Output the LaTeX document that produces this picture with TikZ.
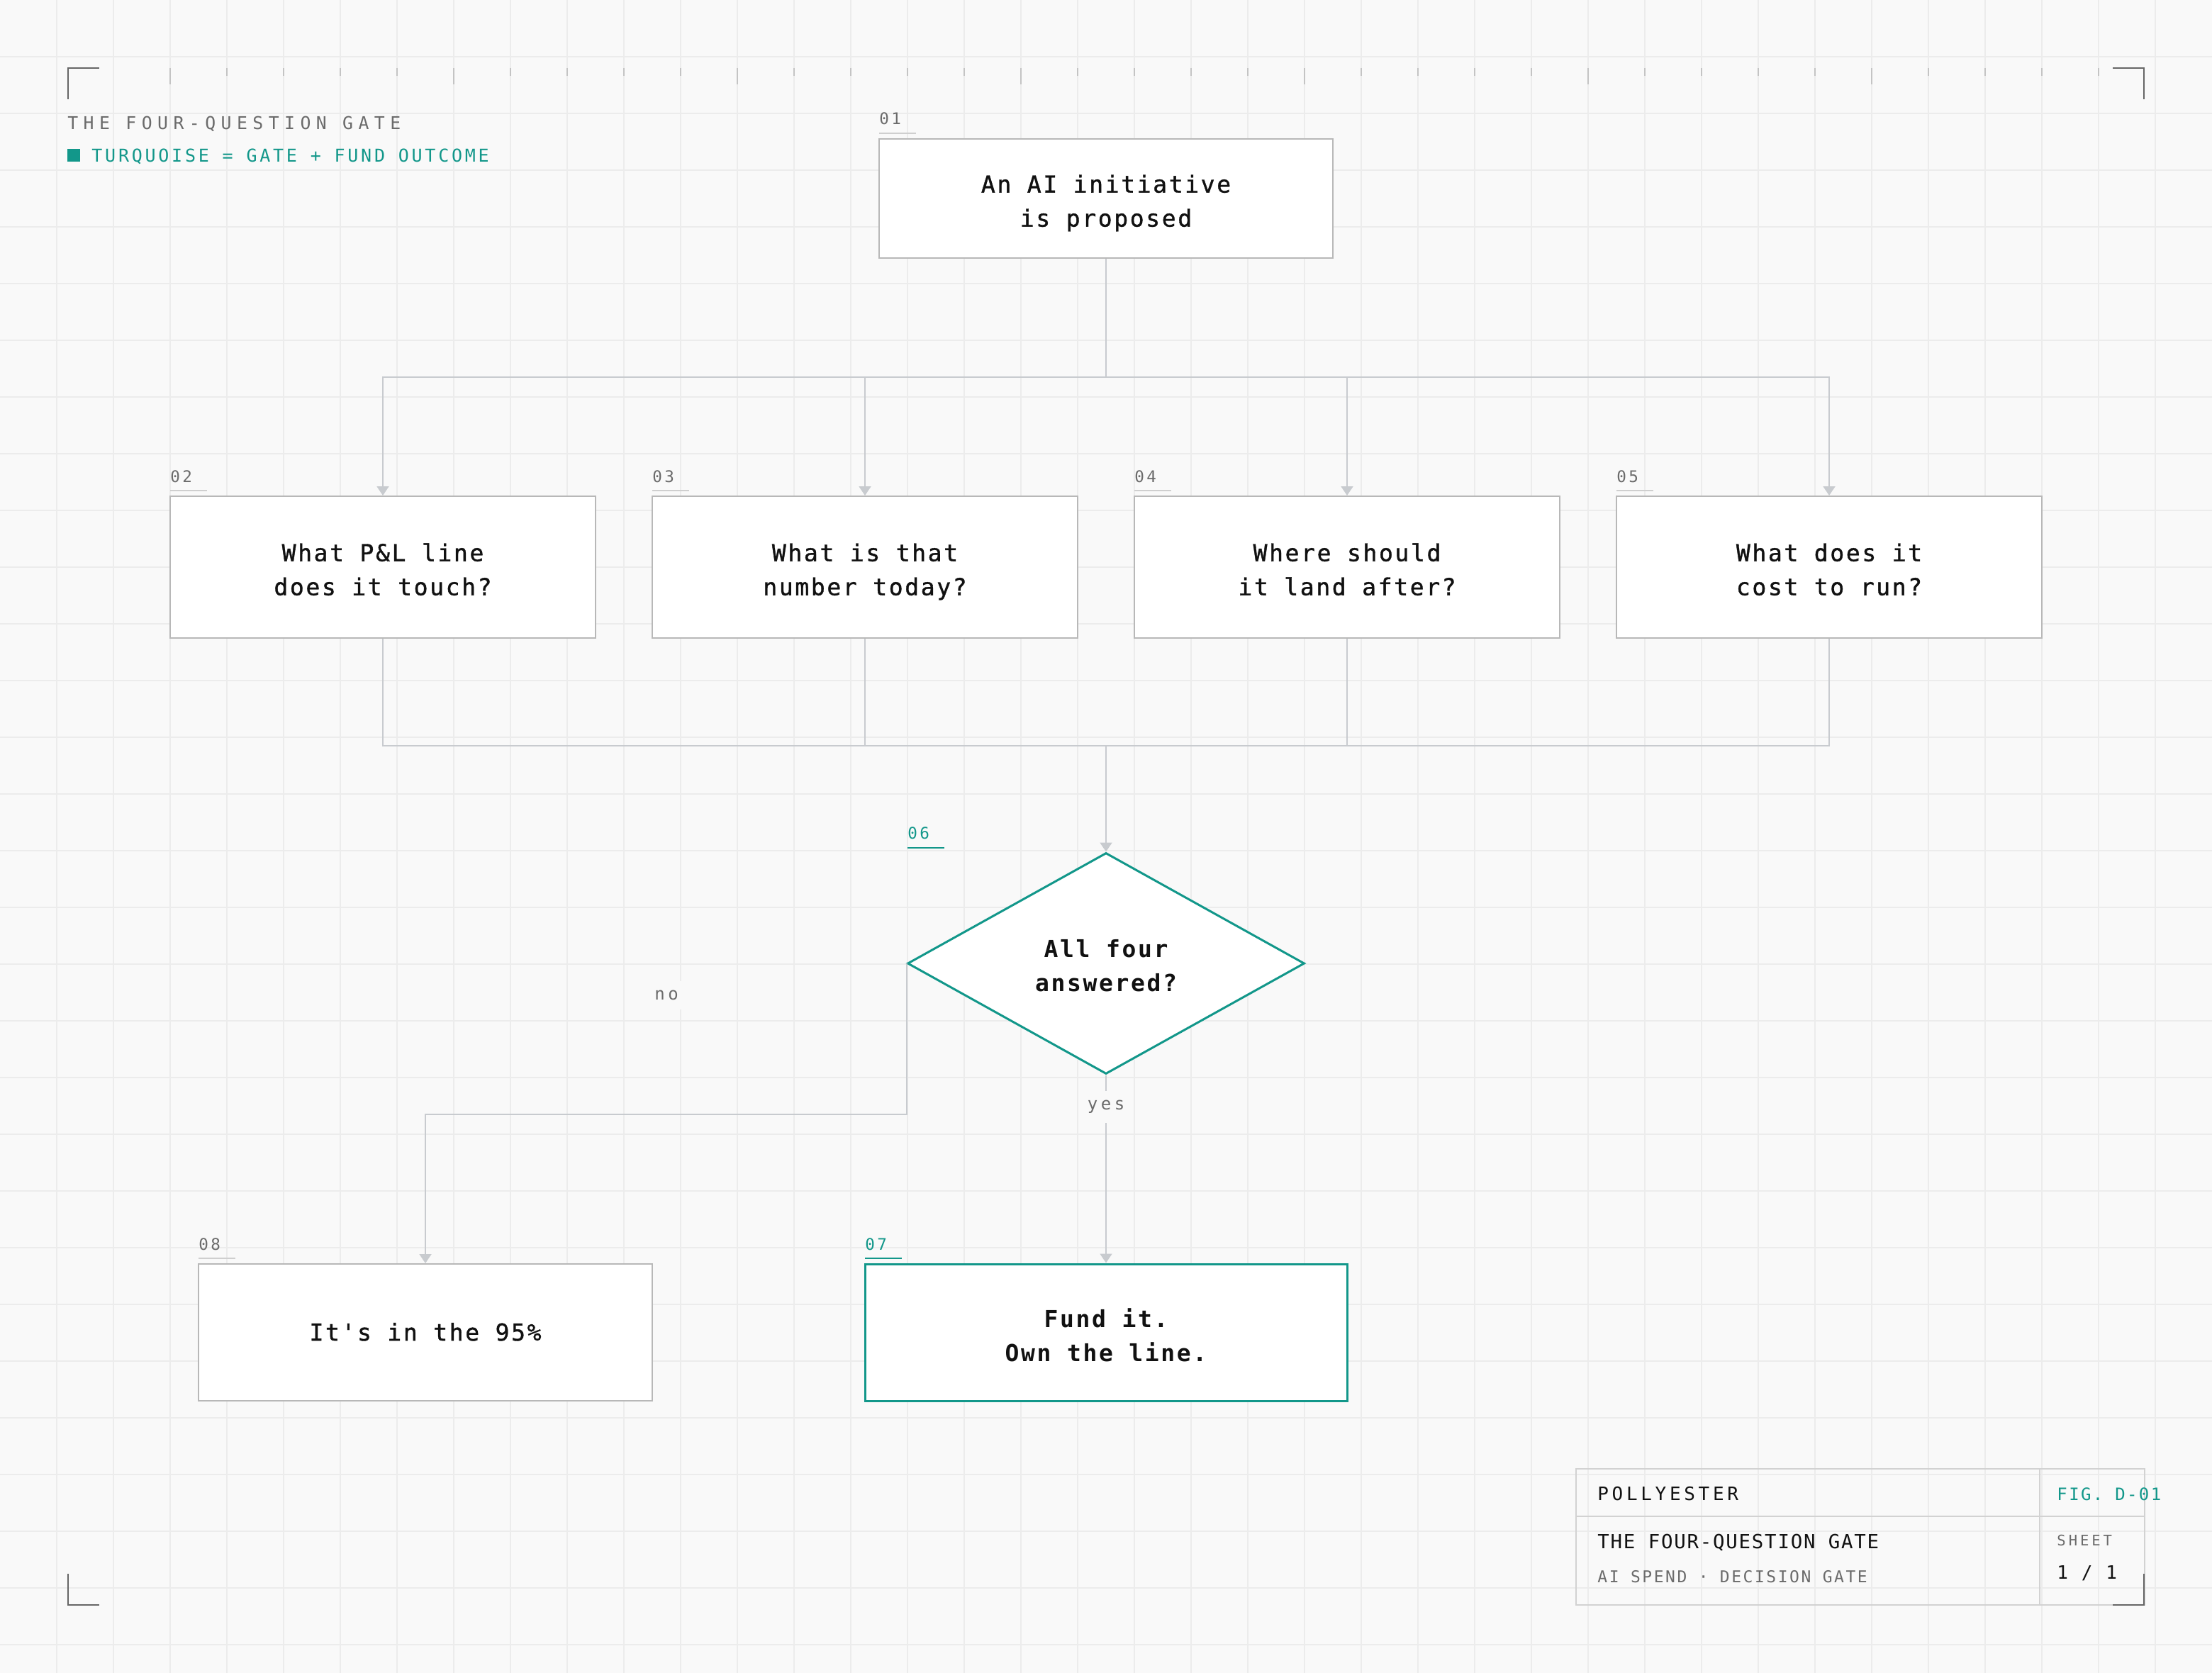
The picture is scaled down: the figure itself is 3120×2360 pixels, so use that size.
\documentclass[tikz,border=0pt]{standalone}
\usepackage{fontspec}
\setmainfont{DejaVu Sans Mono}[Ligatures=TeXOff]
\usetikzlibrary{arrows.meta,shapes.geometric}
\definecolor{bgc}{HTML}{F9F9F9}
\definecolor{gridc}{HTML}{ECECEC}
\definecolor{tealc}{HTML}{12978A}
\definecolor{connc}{HTML}{C8CBCF}
\definecolor{boxb}{HTML}{B8B8B8}
\definecolor{muted}{HTML}{6B6B6B}
\definecolor{tickc}{HTML}{C4C4C4}
\definecolor{tblc}{HTML}{D2D2D2}
\definecolor{ulc}{HTML}{CFCFCF}
\definecolor{ink}{HTML}{111111}
\definecolor{cornc}{HTML}{666666}
\newcommand\myfnt[3]{\fontsize{#1}{#2}\selectfont\addfontfeatures{LetterSpace=#3}}
\newcommand\myfntb[3]{\fontsize{#1}{#2}\selectfont\addfontfeatures{LetterSpace=#3,FakeBold=1.1}}
\newcommand\boxtxt[2]{\raisebox{-#1}[\height][\depth]{\begin{tabular}{@{}c@{}}#2\end{tabular}}}
\begin{document}
\begin{tikzpicture}[x=0.5pt,y=-0.5pt,
  gridl/.style={draw=gridc, line width=0.75pt},
  tickl/.style={draw=tickc, line width=0.75pt},
  cornl/.style={draw=cornc, line width=1.25pt},
  box/.style={draw=boxb, fill=white, line width=1pt, inner sep=0, align=center, text=ink, font=\myfntb{16.5pt}{24pt}{8}},
  fundbox/.style={box, draw=tealc, line width=1.5pt, font=\bfseries\myfnt{16.5pt}{24pt}{8}},
  gate/.style={diamond, draw=tealc, fill=white, line width=1.5pt, inner sep=0, align=center, text=ink, font=\bfseries\myfnt{16.5pt}{24pt}{8}},
  numlab/.style={anchor=base west, inner sep=0, text=muted, font=\myfnt{11.3pt}{13pt}{15}},
  ul/.style={draw=ulc, line width=1pt},
  arr/.style={draw=connc, line width=1pt, -{Triangle[width=8.5pt,length=6.5pt]}},
  conn/.style={draw=connc, line width=1pt},
  edgelab/.style={fill=bgc, text=muted, inner xsep=5.5pt, inner ysep=6.5pt, font=\myfnt{12pt}{14pt}{19}},
  tbtext/.style={anchor=base west, inner sep=0}
]
% background and grid
\fill[bgc] (0,0) rectangle (3120,2360);
\useasboundingbox (0,0) rectangle (3120,2360);
\foreach \g in {80,160,...,3040} \draw[gridl] (\g,0) -- (\g,2360);
\foreach \g in {80,160,...,2320} \draw[gridl] (0,\g) -- (3120,\g);
% ruler ticks
\foreach \t in {240,320,...,2960} \draw[tickl] (\t,96) -- (\t,107);
\foreach \t in {240,640,...,2640} \draw[tickl] (\t,96) -- (\t,119);

% header
\node[anchor=base west, inner sep=0, text=muted, font=\myfnt{12.4pt}{14pt}{30}] (hdr1) at (95,183) {THE FOUR-QUESTION GATE};
\fill[tealc] (95,210) rectangle (113,228);
\node[anchor=base west, inner sep=0, text=tealc, font=\myfnt{12.5pt}{14pt}{15}] (hdr2) at (129,228) {TURQUOISE = GATE + FUND OUTCOME};

% nodes
\node[box, minimum width=320pt, minimum height=84pt] (n1) at (1560,280) {\boxtxt{3pt}{An AI initiative\\is proposed}};
\node[box, minimum width=300pt, minimum height=100pt] (n2) at (540,800) {\boxtxt{3pt}{What P\&L line\\does it touch?}};
\node[box, minimum width=300pt, minimum height=100pt] (n3) at (1220,800) {\boxtxt{3pt}{What is that\\number today?}};
\node[box, minimum width=300pt, minimum height=100pt] (n4) at (1900,800) {\boxtxt{3pt}{Where should\\it land after?}};
\node[box, minimum width=300pt, minimum height=100pt] (n5) at (2580,800) {\boxtxt{3pt}{What does it\\cost to run?}};
\node[gate, minimum width=280pt, minimum height=156pt] (n6) at (1560,1359) {\boxtxt{3pt}{All four\\answered?}};
\node[fundbox, minimum width=340pt, minimum height=96.5pt] (n7) at (1560,1879.5) {\boxtxt{3.5pt}{Fund it.\\Own the line.}};
\node[box, minimum width=320pt, minimum height=96.5pt] (n8) at (600,1879.5) {\boxtxt{1pt}{It's in the 95\%}};

% number labels
\node[numlab] (l1) at (1240,176) {01}; \draw[ul] (1240,188) -- (1292,188);
\node[numlab] (l2) at (240,680) {02}; \draw[ul] (240,692) -- (292,692);
\node[numlab] (l3) at (920,680) {03}; \draw[ul] (920,692) -- (972,692);
\node[numlab] (l4) at (1600,680) {04}; \draw[ul] (1600,692) -- (1652,692);
\node[numlab] (l5) at (2280,680) {05}; \draw[ul] (2280,692) -- (2332,692);
\node[numlab, text=tealc] (l6) at (1280,1183) {06}; \draw[ul, draw=tealc] (1280,1196) -- (1332,1196);
\node[numlab, text=tealc] (l7) at (1220,1763) {07}; \draw[ul, draw=tealc] (1220,1775) -- (1272,1775);
\node[numlab] (l8) at (280,1763) {08}; \draw[ul] (280,1775) -- (332,1775);

% connectors
\coordinate (busA) at (1560,532);
\coordinate (busB) at (1560,1052);
\coordinate (nobend) at (600,1572);
\draw[conn] (n1.south) -- (busA);
\draw[arr] (busA) -| (n2.north);
\draw[arr] (busA) -| (n3.north);
\draw[arr] (busA) -| (n4.north);
\draw[arr] (busA) -| (n5.north);
\draw[conn] (n2.south) |- (busB);
\draw[conn] (n3.south) |- (busB);
\draw[conn] (n4.south) |- (busB);
\draw[conn] (n5.south) |- (busB);
\draw[arr] (busB) -- (n6.north);
\draw[arr] (n6.south) -- node[edgelab, pos=0.17] (yeslab) {yes} (n7.north);
\draw[arr] (n6.west) |- (nobend) -- (n8.north);
\node[edgelab] (nolab) at (940,1404) {no};

% title block
\draw[draw=tblc, line width=1pt] (2223,2072) rectangle (3025,2264);
\draw[draw=tblc, line width=1pt] (2877,2072) -- (2877,2264);
\draw[draw=tblc, line width=1pt] (2223,2139) -- (3025,2139);
\node[tbtext, text=ink, font=\myfnt{13pt}{15pt}{18}] (tb1) at (2253,2116) {POLLYESTER};
\node[tbtext, text=tealc, font=\myfnt{12pt}{14pt}{10}] (tb2) at (2901,2116) {FIG. D-01};
\node[tbtext, text=ink, font=\myfnt{13.7pt}{15pt}{6.5}] (tb3) at (2253,2184) {THE FOUR-QUESTION GATE};
\node[tbtext, text=muted, font=\myfnt{11.5pt}{13pt}{11}] (tb4) at (2253,2232) {AI SPEND · DECISION GATE};
\node[tbtext, text=muted, font=\myfnt{10.3pt}{12pt}{19}] (tb5) at (2901,2180) {SHEET};
\node[tbtext, text=ink, font=\myfnt{13pt}{15pt}{12}] (tb6) at (2901,2227) {1 / 1};

% corner marks
\draw[cornl] (96,140) -- (96,96) -- (140,96);
\draw[cornl] (2980,96) -- (3024,96) -- (3024,140);
\draw[cornl] (96,2220) -- (96,2264) -- (140,2264);
\draw[cornl] (2980,2264) -- (3024,2264) -- (3024,2220);
\end{tikzpicture}
\end{document}
